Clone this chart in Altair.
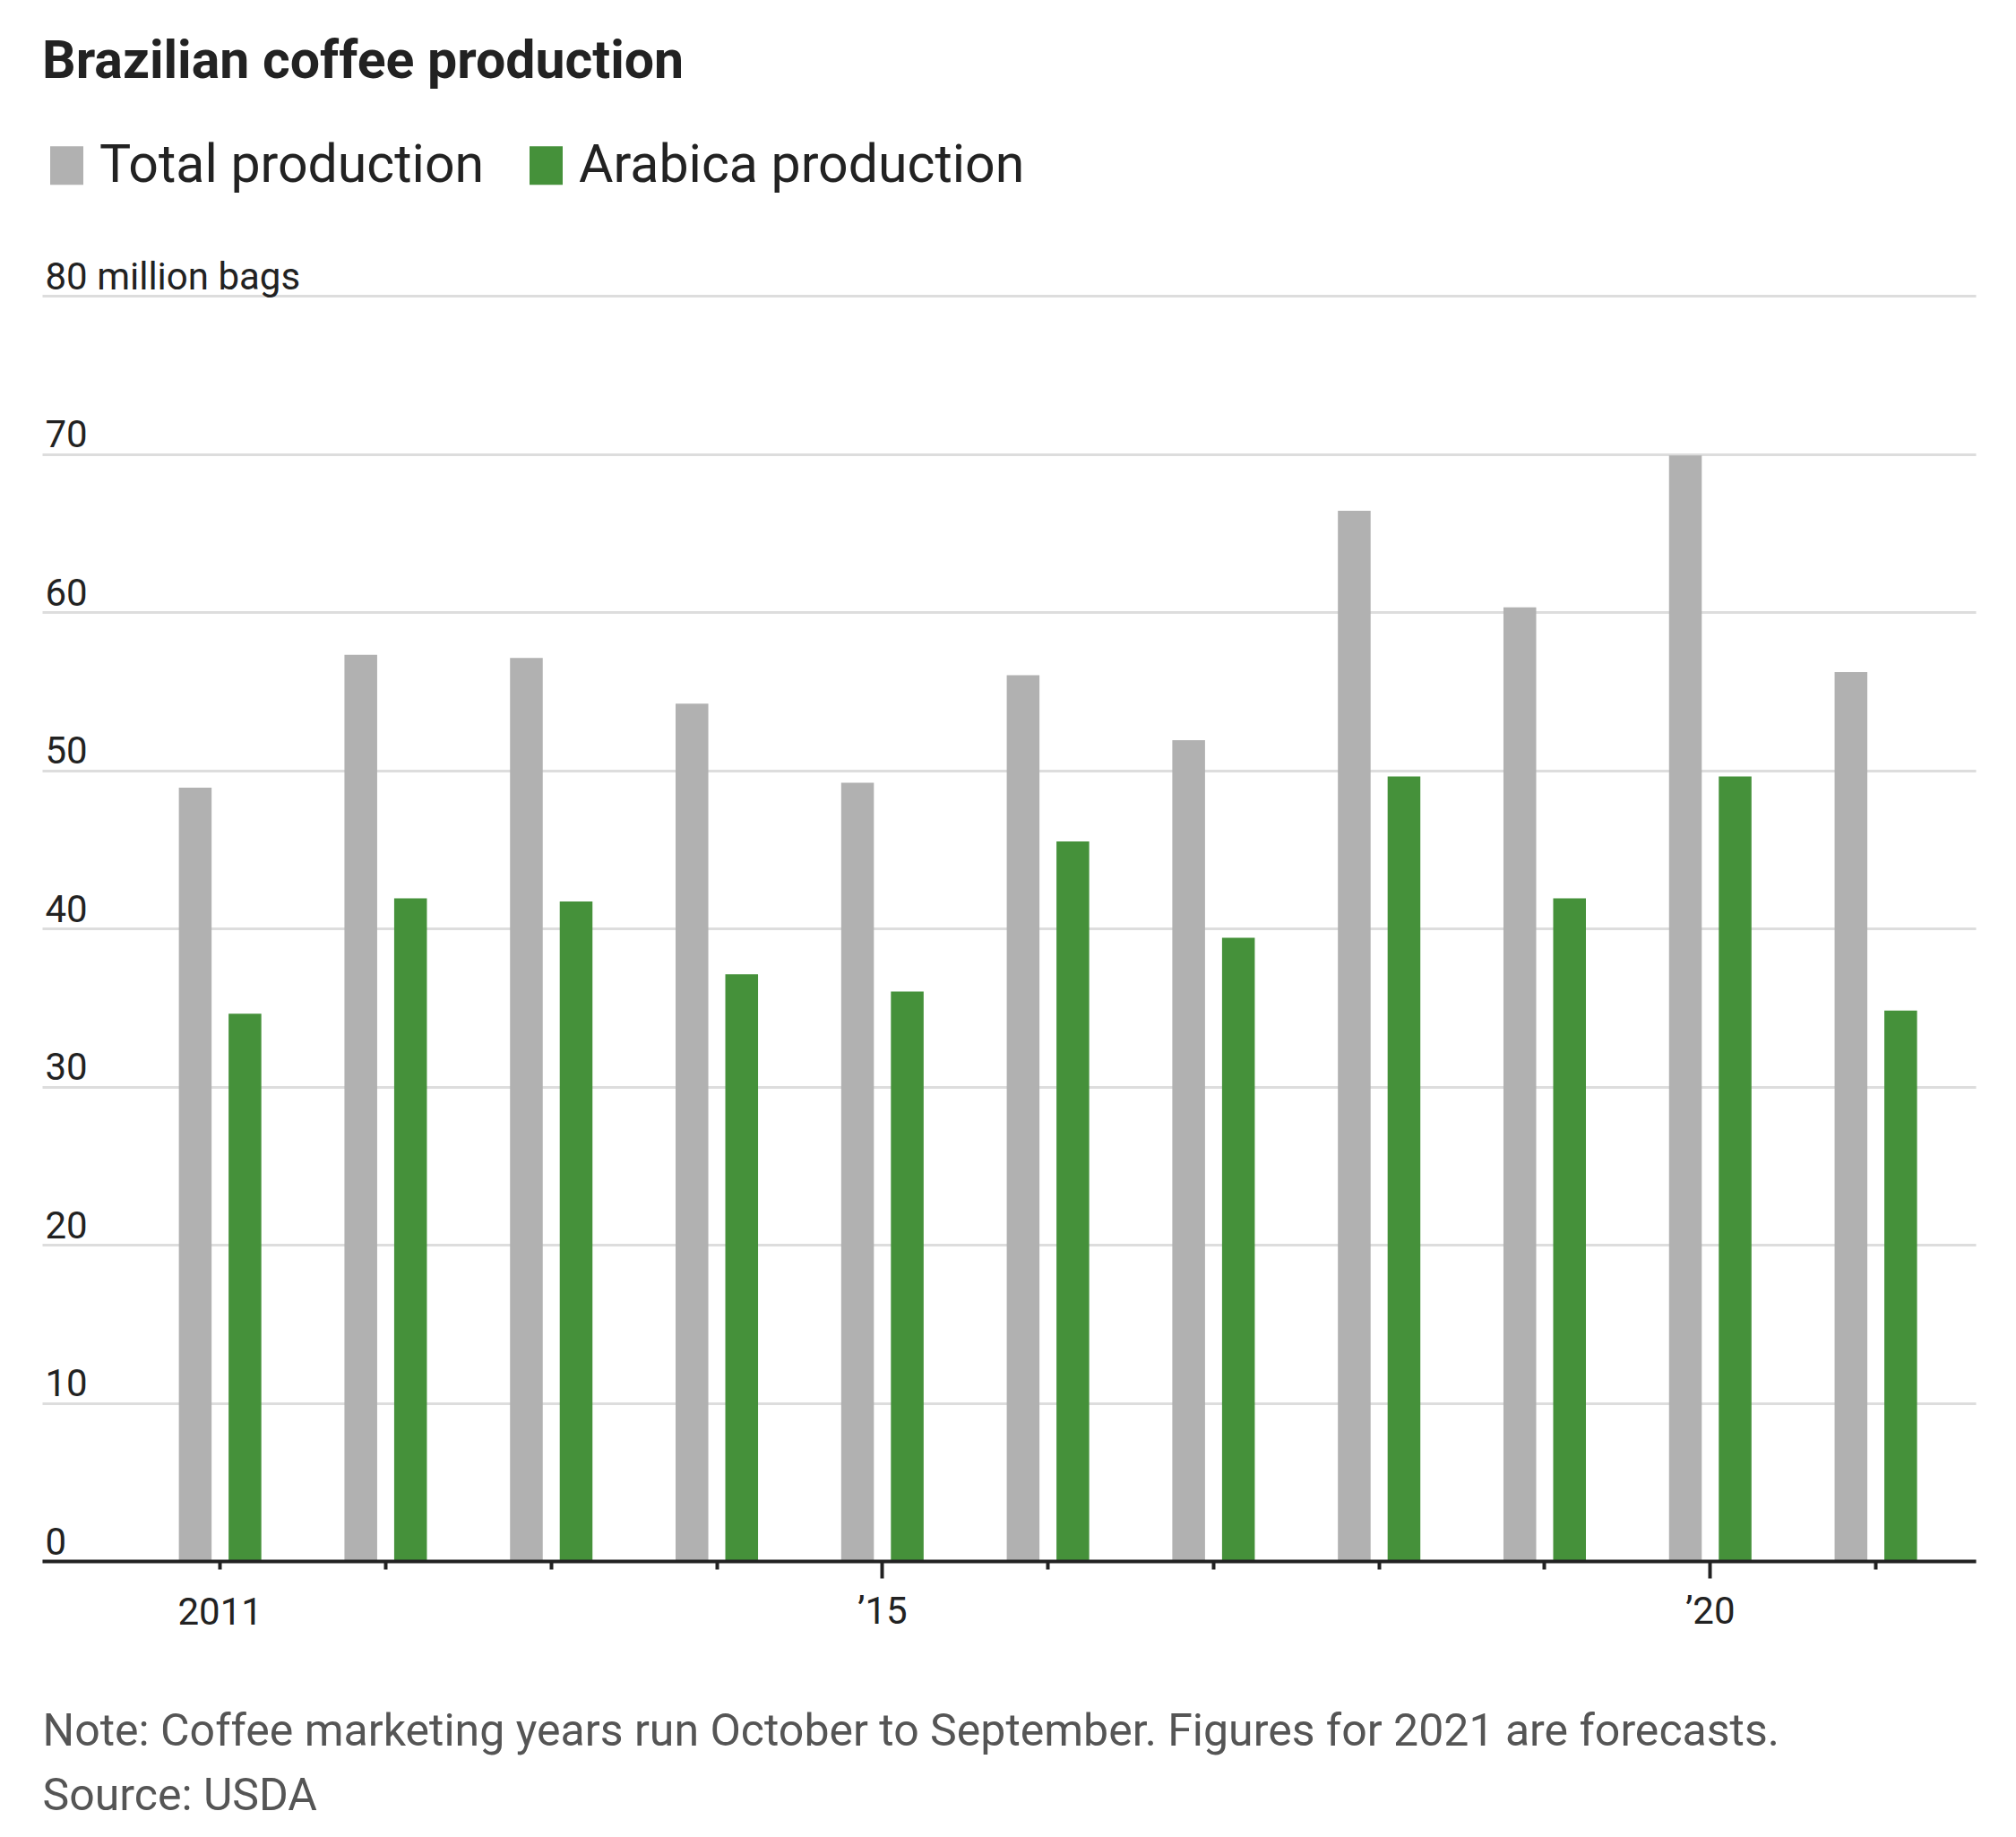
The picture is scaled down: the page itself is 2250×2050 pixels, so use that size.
import altair as alt
import pandas as pd

years = list(range(2011, 2022))
total = [48.9, 57.3, 57.1, 54.2, 49.2, 56.0, 51.9, 66.4, 60.3, 69.9, 56.2]
arabica = [34.6, 41.9, 41.7, 37.1, 36.0, 45.5, 39.4, 49.6, 41.9, 49.6, 34.8]
series = ["Total production", "Arabica production"]
colors = ["#b1b1b1", "#45913a"]
y_ticks = [0, 10, 20, 30, 40, 50, 60, 70, 80]
title_text = "Brazilian coffee production"
note_lines = [
    "Note: Coffee marketing years run October to September. Figures for 2021 are forecasts.",
    "Source: USDA",
]

rows = []
for yr, t, a in zip(years, total, arabica):
    rows.append({"year": yr, "series": series[0], "value": t})
    rows.append({"year": yr, "series": series[1], "value": a})
df = pd.DataFrame(rows)

FONT = "Roboto"
DARK = "#222222"
LONG_TICK = "datum.value == 2015 || datum.value == 2020"

x_axis = alt.Axis(
    labelExpr="datum.value == 2011 ? '2011' : datum.value == 2015 ? '\u201915' : datum.value == 2020 ? '\u201920' : ''",
    labelAngle=0,
    labelFont=FONT,
    labelFontSize=42,
    labelColor=DARK,
    labelPadding={"condition": {"test": LONG_TICK, "value": 17}, "value": 28},
    domainColor=DARK,
    domainWidth=4,
    tickColor=DARK,
    tickWidth=4,
    tickSize={"condition": {"test": LONG_TICK, "value": 19}, "value": 9},
    title=note_lines,
    titleFont=FONT,
    titleFontSize=50,
    titleFontWeight="normal",
    titleColor="#555555",
    titleAnchor="start",
    titleAlign="left",
    titleBaseline="alphabetic",
    titleX=0,
    titleY=205,
    titleLineHeight=72,
    titleLimit=3000,
    zindex=1,
)

y_axis = alt.Axis(
    values=y_ticks,
    labelExpr="datum.value == 80 ? '80 million bags' : datum.value == 0 ? '\u20070' : datum.label",
    labelAlign="left",
    labelBaseline="alphabetic",
    labelPadding=-3,
    labelOffset=-8,
    labelFont=FONT,
    labelFontSize=42,
    labelColor=DARK,
    labelLimit=1000,
    ticks=False,
    tickSize=0,
    domain=False,
    grid=True,
    gridColor="#dddddd",
    gridWidth=3,
    title=None,
)

legend = alt.Legend(
    orient="none",
    legendX=-2,
    legendY=-175,
    direction="horizontal",
    title=None,
    symbolType="M-0.86,-1H0.86V1H-0.86Z",
    symbolSize=1849,
    symbolStrokeWidth=0,
    labelFont=FONT,
    labelFontSize=59,
    labelColor=DARK,
    labelLimit=2000,
    labelOffset=7,
    columnPadding=39,
    padding=0,
)

chart = (
    alt.Chart(df)
    .mark_bar()
    .encode(
        x=alt.X(
            "year:O",
            scale=alt.Scale(paddingInner=0.502, paddingOuter=0.59, align=0.70),
            axis=x_axis,
        ),
        xOffset=alt.XOffset("series:N", sort=series, scale=alt.Scale(paddingInner=0.342, paddingOuter=0)),
        y=alt.Y("value:Q", scale=alt.Scale(domain=[0, 80], nice=False), axis=y_axis),
        color=alt.Color(
            "series:N",
            sort=series,
            scale=alt.Scale(domain=series, range=colors),
            legend=legend,
        ),
    )
    .properties(
        width=2158,
        height=1412,
        title=alt.TitleParams(
            text=title_text,
            font=FONT,
            fontSize=59,
            fontWeight="bold",
            color=DARK,
            anchor="start",
            frame="group",
            baseline="alphabetic",
            offset=9,
        ),
        autosize=alt.AutoSizeParams(type="none"),
        padding={"left": 47, "top": 330, "right": 45, "bottom": 308},
        background="white",
    )
    .configure_view(stroke=None)
)

chart.save("out.html", embed_options={"renderer": "svg", "actions": False})
